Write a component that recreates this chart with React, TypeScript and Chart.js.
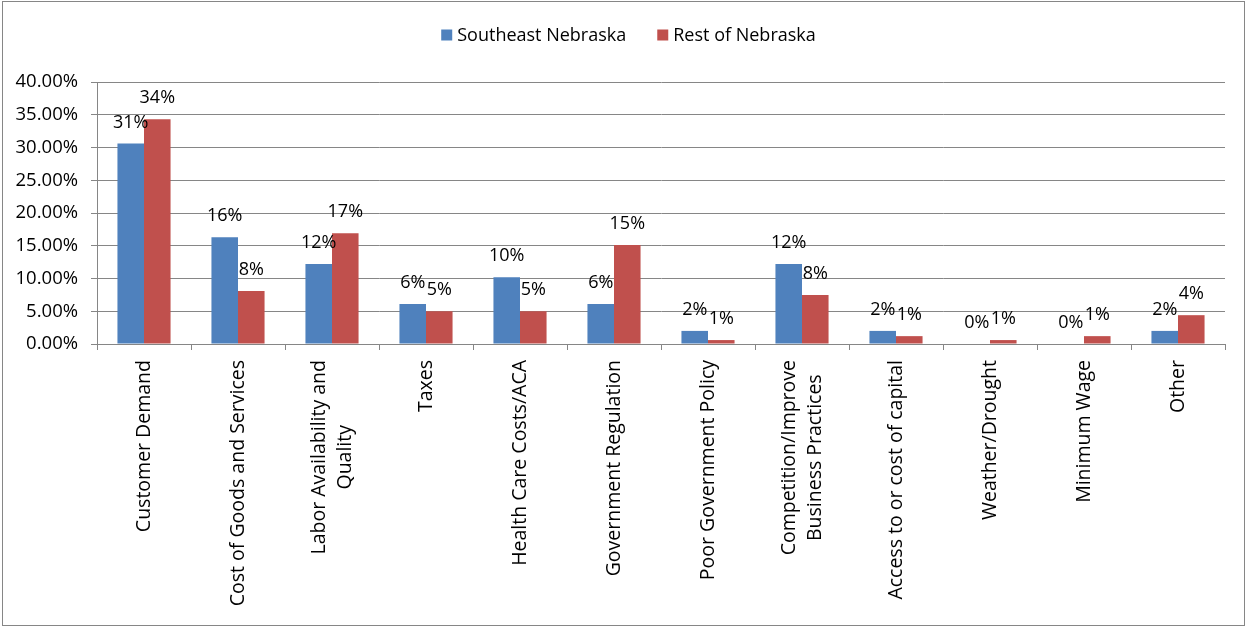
import React, { useEffect, useRef } from 'react';
import { Chart, registerables } from 'chart.js';

Chart.register(...registerables);

const categories: string[][] = [
  ['Customer Demand'],
  ['Cost of Goods and Services'],
  ['Labor Availability and', 'Quality'],
  ['Taxes'],
  ['Health Care Costs/ACA'],
  ['Government Regulation'],
  ['Poor Government Policy'],
  ['Competition/Improve', 'Business Practices'],
  ['Access to or cost of capital'],
  ['Weather/Drought'],
  ['Minimum Wage'],
  ['Other'],
];

const seriesNames = ['Southeast Nebraska', 'Rest of Nebraska'];
const southeast = [30.6, 16.3, 12.2, 6.1, 10.2, 6.1, 2.0, 12.2, 2.0, 0, 0, 2.0];
const restOfState = [34.3, 8.1, 16.9, 5.0, 5.0, 15.1, 0.6, 7.5, 1.2, 0.6, 1.2, 4.4];
const yMin = 0;
const yMax = 40;
const yStep = 5;

const BLUE = '#4F81BD';
const RED = '#C0504D';
const GRID = '#868686';
const FONT = '"Open Sans", "Noto Sans", sans-serif';

const dataLabelPlugin = {
  id: 'dataLabels',
  afterDatasetsDraw(chart: any) {
    const ctx = chart.ctx;
    ctx.save();
    ctx.font = `18px ${FONT}`;
    ctx.fillStyle = '#000';
    ctx.textAlign = 'center';
    ctx.textBaseline = 'alphabetic';
    chart.data.datasets.forEach((ds: any, di: number) => {
      const meta = chart.getDatasetMeta(di);
      meta.data.forEach((el: any, i: number) => {
        const v = ds.data[i] as number;
        ctx.fillText(Math.round(v) + '%', el.x, el.y - 16);
      });
    });
    ctx.restore();
  },
};

const xLabelPlugin = {
  id: 'xLabels',
  afterDraw(chart: any) {
    const ctx = chart.ctx;
    const xs = chart.scales.x;
    ctx.save();
    ctx.font = `19.5px ${FONT}`;
    ctx.fillStyle = '#000';
    const lh = 26;
    categories.forEach((lines, i) => {
      const x = xs.getPixelForTick(i);
      const topY = xs.top + 16;
      const maxW = Math.max(...lines.map((l) => ctx.measureText(l).width));
      ctx.save();
      ctx.translate(x, topY);
      ctx.rotate(-Math.PI / 2);
      ctx.textAlign = 'center';
      ctx.textBaseline = 'middle';
      lines.forEach((l, j) => {
        ctx.fillText(l, -maxW / 2, (j - (lines.length - 1) / 2) * lh);
      });
      ctx.restore();
    });
    ctx.restore();
  },
};

const legendPlugin = {
  id: 'customLegend',
  afterDraw(chart: any) {
    const ctx = chart.ctx;
    ctx.save();
    ctx.font = `18px ${FONT}`;
    const box = 11;
    const gapText = 5;
    const gapItem = 31;
    const items = chart.data.datasets.map((ds: any) => ({
      label: ds.label as string,
      color: ds.backgroundColor as string,
      w: ctx.measureText(ds.label).width,
    }));
    const total =
      items.reduce((s: number, it: any) => s + box + gapText + it.w, 0) + gapItem * (items.length - 1);
    let x = chart.width / 2 + 5 - total / 2;
    const cy = 33;
    ctx.textBaseline = 'middle';
    ctx.textAlign = 'left';
    items.forEach((it: any) => {
      ctx.fillStyle = it.color;
      ctx.fillRect(x, cy - box / 2, box, box);
      ctx.fillStyle = '#000';
      ctx.fillText(it.label, x + box + gapText, cy + 1);
      x += box + gapText + it.w + gapItem;
    });
    ctx.restore();
  },
};

export default function App() {
  const canvasRef = useRef<HTMLCanvasElement | null>(null);

  useEffect(() => {
    let chart: Chart | null = null;
    let cancelled = false;
    const make = () => {
      if (cancelled || !canvasRef.current) return;
      chart = new Chart(canvasRef.current, {
        type: 'bar',
        data: {
          labels: categories.map((c) => c.join(' ')),
          datasets: [
            {
              label: seriesNames[0],
              data: southeast,
              backgroundColor: BLUE,
              borderWidth: 0,
              barPercentage: 1,
              categoryPercentage: 0.565,
            },
            {
              label: seriesNames[1],
              data: restOfState,
              backgroundColor: RED,
              borderWidth: 0,
              barPercentage: 1,
              categoryPercentage: 0.565,
            },
          ],
        },
        options: {
          animation: false,
          responsive: false,
          devicePixelRatio: 1,
          layout: { padding: { left: 0, right: 19, top: 80, bottom: 0 } },
          plugins: {
            legend: { display: false },
            tooltip: { enabled: false },
          },
          scales: {
            x: {
              grid: {
                display: true,
                drawOnChartArea: false,
                drawTicks: true,
                tickLength: 6,
                color: GRID,
                offset: true,
              },
              border: { display: true, color: GRID },
              ticks: { display: false },
              afterFit: (s: any) => {
                s.height = 281;
              },
            },
            y: {
              min: yMin,
              max: yMax,
              ticks: {
                stepSize: yStep,
                callback: (v: any) => Number(v).toFixed(2) + '%',
                font: { family: FONT, size: 18.5 },
                color: '#000',
                padding: 13,
              },
              grid: { color: GRID, tickLength: 6 },
              border: { display: true, color: GRID },
              afterFit: (s: any) => {
                s.width = 94;
              },
            },
          },
        },
        plugins: [dataLabelPlugin, xLabelPlugin, legendPlugin],
      });
    };
    const fonts: any = (document as any).fonts;
    if (fonts && fonts.load) {
      fonts.load(`18px "Open Sans"`).then(make, make);
    } else {
      make();
    }
    return () => {
      cancelled = true;
      if (chart) chart.destroy();
    };
  }, []);

  return (
    <div
      style={{
        position: 'absolute',
        left: 2,
        top: 1,
        width: 1243,
        height: 625,
        boxSizing: 'border-box',
        border: `1px solid ${GRID}`,
        background: '#fff',
      }}
    >
      <canvas ref={canvasRef} width={1241} height={623} style={{ display: 'block' }} />
    </div>
  );
}
